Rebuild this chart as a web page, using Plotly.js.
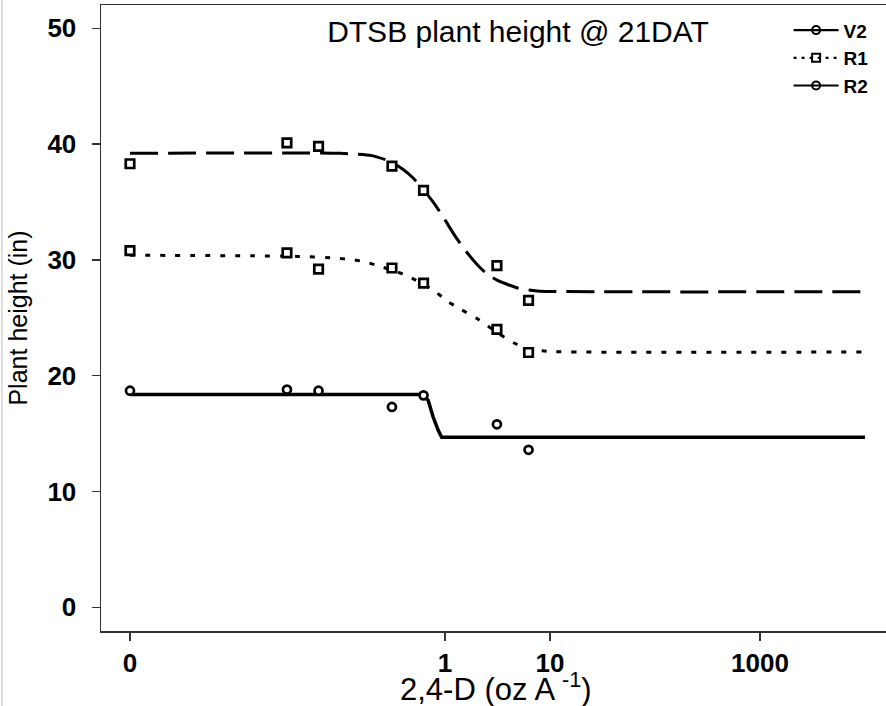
<!DOCTYPE html>
<html><head><meta charset="utf-8">
<script src="https://cdn.plot.ly/plotly-3.0.1.min.js"></script>
<style>
html,body{margin:0;padding:0;overflow:hidden;background:#fff;}
#frame{position:absolute;left:0;top:0;width:886px;height:706px;overflow:hidden;}
#chart{width:900px;height:706px;}
#edge{position:absolute;left:1px;top:0;width:2px;height:706px;background:#dedede;}
</style></head><body>
<div id="frame"><div id="chart"></div><div id="edge"></div></div>
<script>
// ---- data ----
var doses = [0, 0.03125, 0.0625, 0.3125, 0.625, 3.125, 6.25];   // oz/A; 0 drawn at 0.001 on the log axis
var ZERO_AT = 0.001;
var topObs = [38.3, 40.1, 39.8, 38.1, 36.0, 29.5, 26.5];
var midObs = [30.8, 30.6, 29.2, 29.3, 28.0, 24.0, 22.0];
var botObs = [18.7, 18.8, 18.7, 17.3, 18.3, 15.8, 13.6];

var topCurveX = [0.001, 0.1, 0.2, 0.3, 0.4, 0.5, 0.63, 0.8, 1, 1.25, 1.6, 2, 2.5, 3.2, 4, 5, 6.3, 8, 10000];
var topCurveY = [39.2, 39.2, 39.0, 38.5, 37.8, 37.05, 36.0, 34.8, 33.45, 32.05, 30.7, 29.65, 28.8, 28.2, 27.85, 27.55, 27.4, 27.3, 27.25];
var midCurveX = [0.001, 0.015, 0.04, 0.09, 0.12, 0.17, 0.22, 0.42, 0.77, 1.07, 1.4, 2, 3.3, 4.6, 6.4, 9.5, 10000];
var midCurveY = [30.4, 30.35, 30.3, 30.15, 30.05, 29.85, 29.55, 28.7, 27.4, 26.4, 25.75, 24.95, 23.6, 22.8, 22.3, 22.1, 22.05];
var botCurveX = [0.001, 0.6, 0.69, 0.77, 0.86, 0.93, 10000];
var botCurveY = [18.38, 18.38, 17.9, 16.45, 15.3, 14.68, 14.68];

var legendNames = ['V2', 'R1', 'R2'];
var xTickVals = [0.001, 1, 10, 1000];
var xTickText = ['0', '1', '10', '1000'];
var yTickVals = [0, 10, 20, 30, 40, 50];

var titleText = 'DTSB plant height @ 21DAT';
var xTitle = '2,4-D (oz A <sup>-1</sup>)';
var yTitle = 'Plant height (in)';

// ---- build ----
var FONT = 'Liberation Sans, Arial, Helvetica, sans-serif';
var xObs = doses.map(function(d){ return d === 0 ? ZERO_AT : d; });

function curve(x, y, dash, w, shape){
  return {x:x, y:y, mode:'lines', type:'scatter', showlegend:false, hoverinfo:'skip',
    line:{color:'#000', width:w, dash:dash, shape:shape, smoothing:0.6}};
}
function pts(y, sym, size){
  return {x:xObs, y:y, mode:'markers', type:'scatter', showlegend:false,
    marker:{symbol:sym, size:size, color:'#fff', line:{color:'#000', width:2.7}}};
}
function leg(name, sym, dash){
  return {x:[null], y:[null], name:name, mode:'lines+markers', type:'scatter',
    line:{color:'#000', width:2.2, dash:dash},
    marker:{symbol:sym, size:8, color:'#000', line:{color:'#000', width:2}}};
}

var traces = [
  curve(topCurveX, topCurveY, '28px,10px', 3, 'spline'),
  curve(midCurveX, midCurveY, '5px,10px', 3, 'spline'),
  curve(botCurveX, botCurveY, 'solid', 3.5, 'linear'),
  pts(topObs, 'square', 8.5),
  pts(midObs, 'square', 8.5),
  pts(botObs, 'circle', 8),
  leg(legendNames[0], 'circle-open', 'solid'),
  leg(legendNames[1], 'square-open', '3px,5px'),
  leg(legendNames[2], 'circle-open', 'solid')
];

var axisCommon = {
  ticks:'outside', ticklen:8, tickwidth:1.5, tickcolor:'#333',
  showline:true, linecolor:'#333', linewidth:1.5, mirror:true,
  showgrid:false, zeroline:false,
  tickfont:{family:FONT, size:26, color:'#000', weight:'bold'}
};

var layout = {
  width:900, height:706,
  margin:{l:101, r:5, t:5, b:75},
  paper_bgcolor:'#fff', plot_bgcolor:'#fff',
  font:{family:FONT, color:'#000'},
  title:{text:titleText, font:{family:FONT, size:30, color:'#000'},
    x:518/900, xref:'container', xanchor:'center',
    y:1-31/706, yref:'container', yanchor:'middle'},
  xaxis:Object.assign({}, axisCommon, {
    type:'log', range:[-3.276, 4.286],
    tickmode:'array', tickvals:xTickVals, ticktext:xTickText
  }),
  yaxis:Object.assign({}, axisCommon, {
    range:[-2.05, 52.01], tickmode:'array', tickvals:yTickVals,
    ticklabelstandoff:10,
    title:{text:yTitle, font:{family:FONT, size:25, color:'#000'}, standoff:12}
  }),
  annotations:[{text:xTitle, xref:'paper', yref:'paper', x:0.497, y:-0.09,
    xanchor:'center', yanchor:'middle', showarrow:false,
    font:{family:FONT, size:31, color:'#000'}}],
  showlegend:true,
  legend:{xref:'paper', yref:'paper', x:0.866, xanchor:'left',
    y:0.99, yanchor:'top', bgcolor:'rgba(0,0,0,0)', borderwidth:0,
    font:{family:FONT, size:19, color:'#000', weight:'bold'}, itemwidth:45,
    traceorder:'normal'}
};

Plotly.newPlot('chart', traces, layout, {displayModeBar:false, staticPlot:true});
</script></body></html>
